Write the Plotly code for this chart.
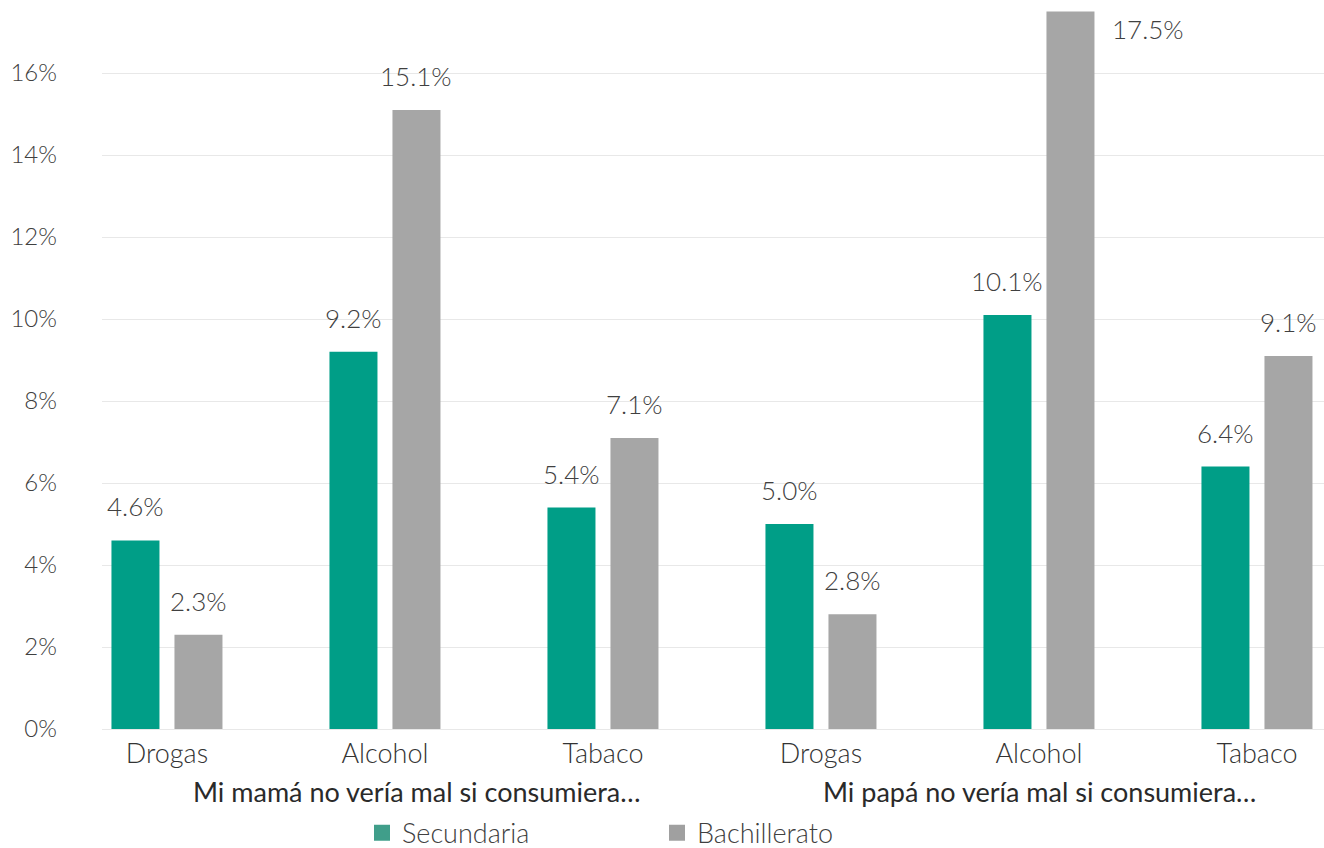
import plotly.graph_objects as go

# ---- data ----
groups = ["Mi mamá no vería mal si consumiera…", "Mi papá no vería mal si consumiera…"]
substances = ["Drogas", "Alcohol", "Tabaco"]
series_names = ["Secundaria", "Bachillerato"]
secundaria = [4.6, 9.2, 5.4, 5.0, 10.1, 6.4]
bachillerato = [2.3, 15.1, 7.1, 2.8, 17.5, 9.1]
y_ticks = [0, 2, 4, 6, 8, 10, 12, 14, 16]

colors = ["#009e87", "#a6a6a6"]
legend_colors = ["#409e8a", "#a0a0a0"]

# unique category keys, shown with substance names only
cat_keys = [f"{g}|{s}" for g in groups for s in substances]
cat_text = [s for g in groups for s in substances]

FONT = "Lato"
fig = go.Figure()
for name, vals, col in zip(series_names, [secundaria, bachillerato], colors):
    fig.add_trace(go.Bar(
        name=name, x=cat_keys, y=vals, marker=dict(color=col, line=dict(width=0)),
        showlegend=False, hoverinfo="skip",
    ))
# legend entries (square swatches)
for name, col in zip(series_names, legend_colors):
    fig.add_trace(go.Scatter(
        name=name, x=[cat_keys[0]], y=[None], mode="markers",
        marker=dict(symbol="square", size=24, color=col), showlegend=True,
    ))

# value labels
offsets = [-31.5, 31.5]
for si, vals in enumerate([secundaria, bachillerato]):
    for k, v in zip(cat_keys, vals):
        if v > 16.5:
            fig.add_annotation(x=k, y=v, text=f"{v:.1f}%", showarrow=False,
                               xshift=offsets[si] + 78, yshift=-17, yanchor="middle",
                               font=dict(family=FONT, size=26, color="#404040", weight=300))
        else:
            fig.add_annotation(x=k, y=v, text=f"{v:.1f}%", showarrow=False,
                               xshift=offsets[si], yshift=16, yanchor="bottom",
                               font=dict(family=FONT, size=26, color="#404040", weight=300))

# group labels
for gi, g in enumerate(groups):
    mid = cat_keys[gi * 3 + 1]
    fig.add_annotation(x=mid, y=0, yref="y", text=g, showarrow=False,
                       xshift=[32, 1][gi], yshift=-62, yanchor="middle",
                       font=dict(family=FONT, size=27, color="#2a2a2a", weight=400))

fig.update_layout(
    width=1324, height=848,
    margin=dict(l=102, r=0, t=0, b=119, autoexpand=False),
    paper_bgcolor="white", plot_bgcolor="white",
    barmode="group", bargap=0.422, bargroupgap=0.238,
    font=dict(family=FONT, color="#333333"),
    showlegend=True,
    legend=dict(orientation="h", x=(362 - 102) / 1222, xanchor="left",
                y=-0.143, yanchor="middle",
                font=dict(family=FONT, size=27, color="#404040", weight=300),
                entrywidth=250, entrywidthmode="pixels", itemsizing="trace",
                bgcolor="rgba(0,0,0,0)"),
    xaxis=dict(type="category", tickvals=cat_keys, ticktext=cat_text,
               range=[-0.298, -0.298 + 1222 / 218],
               showgrid=False, showline=False, ticks="", zeroline=False,
               ticklabelstandoff=6,
               tickfont=dict(family=FONT, size=27, color="#333333", weight=300)),
    yaxis=dict(range=[0, 729 / 41], tickvals=y_ticks,
               ticktext=[f"{v}%" for v in y_ticks],
               showgrid=True, gridcolor="#e8e8e8", gridwidth=1,
               zeroline=True, zerolinecolor="#e8e8e8", zerolinewidth=1,
               showline=False, ticks="", ticklabelstandoff=44,
               tickfont=dict(family=FONT, size=24, color="#404040", weight=300)),
)

fig.write_html("out.html")
